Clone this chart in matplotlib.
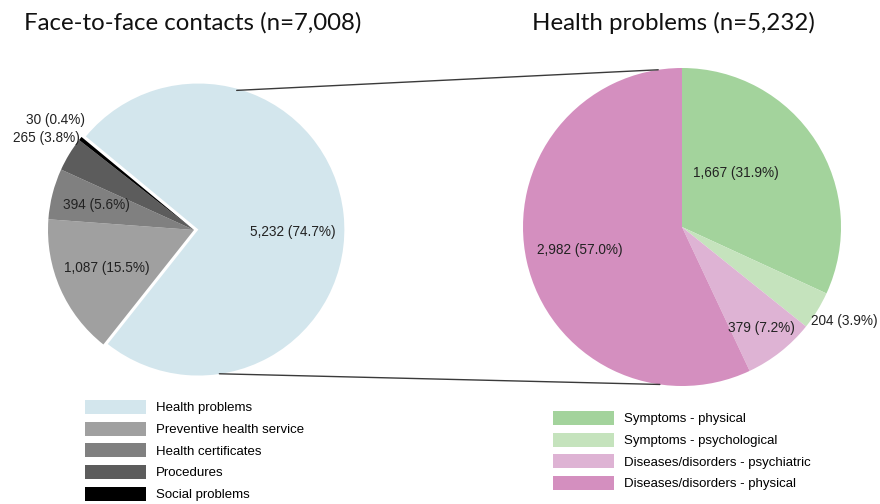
import numpy as np
import matplotlib.pyplot as plt
from matplotlib.patches import ConnectionPatch, Patch

# contacts (left pie)
contact_labels = ["Health problems", "Preventive health service", "Health certificates",
                  "Procedures", "Social problems"]
contact_counts = [5232, 1087, 394, 265, 30]
contact_pcts = [74.7, 15.5, 5.6, 3.8, 0.4]
contact_colors = ["#d3e6ed", "#a0a0a0", "#808080", "#5c5c5c", "#000000"]

# health problems (right pie)
problem_labels = ["Symptoms - physical", "Symptoms - psychological",
                  "Diseases/disorders - psychiatric", "Diseases/disorders - physical"]
problem_counts = [1667, 204, 379, 2982]
problem_pcts = [31.9, 3.9, 7.2, 57.0]
problem_colors = ["#a3d39c", "#c5e3bd", "#deb3d4", "#d48fbf"]

W, H = 880, 504
fig = plt.figure(figsize=(W / 100, H / 100), dpi=100)
plt.rcParams["font.family"] = ["Liberation Sans", "DejaVu Sans"]

SPAN = 1.45


def pie_axes(cx, cy, r):
    # axes in pixel terms so that one data unit equals the radius
    side = 2 * SPAN * r
    ax = fig.add_axes([(cx - SPAN * r) / W, (H - cy - SPAN * r) / H, side / W, side / H])
    return ax


def fix_limits(ax):
    ax.set_xlim(-SPAN, SPAN)
    ax.set_ylim(-SPAN, SPAN)
    ax.axis("off")


def fmt(n, p):
    return f"{n:,} ({p:.1f}%)"


def put_labels(ax, wedges, counts, pcts, dists, shifts, has):
    for w, n, p, d, s, ha in zip(wedges, counts, pcts, dists, shifts, has):
        mid = np.deg2rad((w.theta1 + w.theta2) / 2 + s)
        cx, cy = w.center
        ax.text(cx + d * np.cos(mid), cy + d * np.sin(mid), fmt(n, p),
                ha=ha, va="center", fontsize=9.8, color="#222222")


# left pie
ax1 = pie_axes(194, 230, 146)
w1, _ = ax1.pie(contact_counts, colors=contact_colors, startangle=140.4,
                counterclock=False, explode=[0.03, 0, 0, 0, 0], radius=1,
                wedgeprops=dict(linewidth=0))
fix_limits(ax1)
put_labels(ax1, w1, contact_counts, contact_pcts,
           [0.65, 0.65, 0.69, 1.0, 1.06], [-7.7, 0, 0, -7.6, -6.3],
           ["center", "center", "center", "right", "right"])

# right pie
ax2 = pie_axes(682, 227, 159)
w2, _ = ax2.pie(problem_counts, colors=problem_colors, startangle=90,
                counterclock=False, radius=1, wedgeprops=dict(linewidth=0))
fix_limits(ax2)
put_labels(ax2, w2, problem_counts, problem_pcts,
           [0.48, 1.0, 0.81, 0.66], [12.4, -4.3, 0, 0],
           ["center", "left", "center", "center"])

# connector lines between the pies
for a_left, a_right in [(73, 98.6), (-80, 262)]:
    pl = (np.cos(np.deg2rad(a_left)), np.sin(np.deg2rad(a_left)))
    pr = (np.cos(np.deg2rad(a_right)), np.sin(np.deg2rad(a_right)))
    con = ConnectionPatch(xyA=pr, coordsA=ax2.transData, xyB=pl, coordsB=ax1.transData,
                          color="#3a3a3a", linewidth=1.0)
    fig.add_artist(con)

# titles
fig.text(193 / W, 1 - 23 / H, "Face-to-face contacts (n=7,008)", ha="center", va="center",
         fontsize=17.3, family=["Lato", "DejaVu Sans"], color="#111111")
fig.text(673 / W, 1 - 23 / H, "Health problems (n=5,232)", ha="center", va="center",
         fontsize=17.3, family=["Lato", "DejaVu Sans"], color="#111111")

# legends
leg_kw = dict(frameon=False, fontsize=9.5, handlelength=4.6, handleheight=1.25,
              labelspacing=0.55, handletextpad=0.75, borderpad=0, borderaxespad=0,
              loc="upper left")
h1 = [Patch(facecolor=c, edgecolor="none") for c in contact_colors]
fig.legend(h1, contact_labels, bbox_to_anchor=(85 / W, 1 - 400 / H), **leg_kw)
h2 = [Patch(facecolor=c, edgecolor="none") for c in problem_colors]
fig.legend(h2, problem_labels, bbox_to_anchor=(553 / W, 1 - 411 / H), **leg_kw)

fig.savefig("out.png", dpi=100)
